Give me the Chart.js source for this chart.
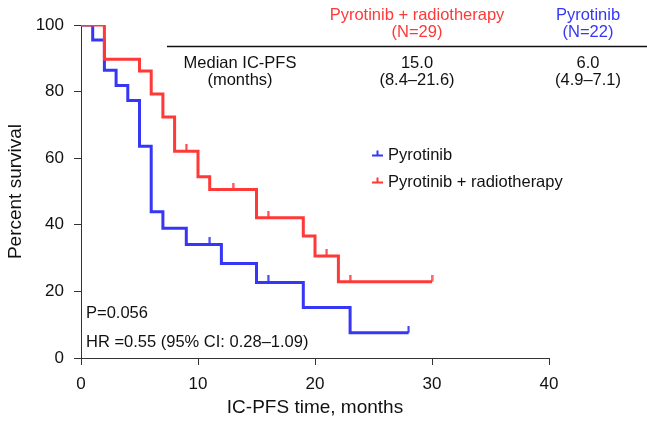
<!DOCTYPE html>
<html>
<head>
<meta charset="utf-8">
<script src="https://cdn.jsdelivr.net/npm/chart.js@4"></script>
<style>
  html, body { margin: 0; padding: 0; background: #fff; }
  #wrap { width: 647px; height: 422px; }
</style>
</head>
<body>
<div id="wrap"><canvas id="c" width="647" height="422"></canvas></div>
<script>
// ---- data ----
const comboTimes = [0, 2, 5, 6, 7, 8, 10, 11, 15, 19, 20, 22, 30];
const comboSurv  = [100, 89.7, 86.2, 79.3, 72.4, 62.1, 54.4, 50.6, 42.1, 36.6, 30.6, 22.9, 22.9];
const comboCensorTimes = [9, 13, 16, 21, 23, 30];
const comboCensorSurv  = [62.1, 50.6, 42.1, 30.6, 22.9, 22.9];

const monoTimes = [0, 1, 2, 3, 4, 5, 6, 7, 9, 12, 15, 19, 23, 28];
const monoSurv  = [100, 95.5, 86.4, 81.8, 77.3, 63.6, 43.9, 39.0, 34.1, 28.4, 22.7, 15.2, 7.6, 7.6];
const monoCensorTimes = [11, 16, 28];
const monoCensorSurv  = [34.1, 22.7, 7.6];

const seriesNames = ['Pyrotinib', 'Pyrotinib + radiotherapy'];
const xTicks = [0, 10, 20, 30, 40];
const yTicks = [0, 20, 40, 60, 80, 100];

const tableHeader = [['Pyrotinib + radiotherapy', '(N=29)'], ['Pyrotinib', '(N=22)']];
const tableRowLabel = ['Median IC-PFS', '(months)'];
const tableValues = [['15.0', '(8.4–21.6)'], ['6.0', '(4.9–7.1)']];
const statsText = ['P=0.056', 'HR =0.55 (95% CI: 0.28–1.09)'];

// ---- styles ----
const RED = '#ff3838';
const BLUE = '#3636f6';
const FONT = '"Liberation Sans", Arial, Helvetica, sans-serif';

function toPts(xs, ys) { return xs.map((x, i) => ({ x: x, y: ys[i] })); }

function censorMark(color) {
  const c = document.createElement('canvas');
  c.width = 3; c.height = 14;
  const g = c.getContext('2d');
  g.strokeStyle = color; g.lineWidth = 2;
  g.beginPath(); g.moveTo(1.5, 0); g.lineTo(1.5, 7); g.stroke();
  return c;
}

const annotations = {
  id: 'annotations',
  afterDraw(chart) {
    const ctx = chart.ctx;
    ctx.save();
    ctx.textBaseline = 'middle';
    ctx.font = '16.5px ' + FONT;
    // table header
    ctx.textAlign = 'center';
    ctx.fillStyle = RED;
    ctx.fillText(tableHeader[0][0], 417, 15);
    ctx.fillText(tableHeader[0][1], 417, 32);
    ctx.fillStyle = BLUE;
    ctx.fillText(tableHeader[1][0], 588, 15);
    ctx.fillText(tableHeader[1][1], 588, 32);
    // rule
    ctx.strokeStyle = '#111'; ctx.lineWidth = 1.5;
    ctx.beginPath(); ctx.moveTo(167, 46.5); ctx.lineTo(647, 46.5); ctx.stroke();
    // body
    ctx.fillStyle = '#111';
    ctx.fillText(tableRowLabel[0], 240, 63);
    ctx.fillText(tableRowLabel[1], 240, 80);
    ctx.fillText(tableValues[0][0], 417, 63);
    ctx.fillText(tableValues[0][1], 417, 80);
    ctx.fillText(tableValues[1][0], 588, 63);
    ctx.fillText(tableValues[1][1], 588, 80);
    // stats
    ctx.textAlign = 'left';
    ctx.fillText(statsText[0], 86, 313);
    ctx.fillText(statsText[1], 86, 342);
    // legend
    const items = [[seriesNames[0], BLUE, 155.5], [seriesNames[1], RED, 182.5]];
    items.forEach(([label, color, y]) => {
      ctx.strokeStyle = color; ctx.lineWidth = 2;
      ctx.beginPath();
      ctx.moveTo(372, y); ctx.lineTo(383, y);
      ctx.moveTo(377.5, y); ctx.lineTo(377.5, y - 5);
      ctx.stroke();
      ctx.fillStyle = '#111';
      ctx.fillText(label, 388, y);
    });
    ctx.restore();
  }
};

new Chart(document.getElementById('c'), {
  type: 'line',
  data: {
    datasets: [
      { label: seriesNames[1], data: toPts(comboTimes, comboSurv), borderColor: RED, borderWidth: 3,
        stepped: true, pointRadius: 0, fill: false, order: 1 },
      { label: seriesNames[0], data: toPts(monoTimes, monoSurv), borderColor: BLUE, borderWidth: 3,
        stepped: true, pointRadius: 0, fill: false, order: 2 },
      { label: 'c1', data: toPts(comboCensorTimes, comboCensorSurv), showLine: false,
        pointStyle: censorMark(RED), pointRadius: 7, order: 1 },
      { label: 'c2', data: toPts(monoCensorTimes, monoCensorSurv), showLine: false,
        pointStyle: censorMark(BLUE), pointRadius: 7, order: 2 }
    ]
  },
  options: {
    responsive: false,
    animation: false,
    devicePixelRatio: 1,
    layout: { padding: { top: 25, right: 98, left: 0, bottom: 0 } },
    plugins: { legend: { display: false }, tooltip: { enabled: false } },
    scales: {
      x: {
        type: 'linear', min: 0, max: 40,
        afterBuildTicks: s => { s.ticks = xTicks.map(v => ({ value: v })); },
        afterFit: s => { s.height = 64; },
        grid: { drawOnChartArea: false, drawTicks: true, tickLength: 7, color: '#333', lineWidth: 1 },
        border: { display: true, color: '#333', width: 1 },
        ticks: { color: '#111', font: { family: FONT, size: 17 }, padding: 9, maxRotation: 0 },
        title: { display: true, text: 'IC-PFS time, months', color: '#111',
                 font: { family: FONT, size: 19 }, padding: { top: 0, bottom: 3 } }
      },
      y: {
        type: 'linear', min: 0, max: 100,
        afterBuildTicks: s => { s.ticks = yTicks.map(v => ({ value: v })); },
        afterFit: s => { s.width = 81; },
        grid: { drawOnChartArea: false, drawTicks: true, tickLength: 7, color: '#333', lineWidth: 1 },
        border: { display: true, color: '#333', width: 1 },
        ticks: { color: '#111', font: { family: FONT, size: 17 }, padding: 10 },
        title: { display: true, text: 'Percent survival', color: '#111',
                 font: { family: FONT, size: 19 }, padding: { top: 4, bottom: 0 } }
      }
    }
  },
  plugins: [annotations]
});
</script>
</body>
</html>
